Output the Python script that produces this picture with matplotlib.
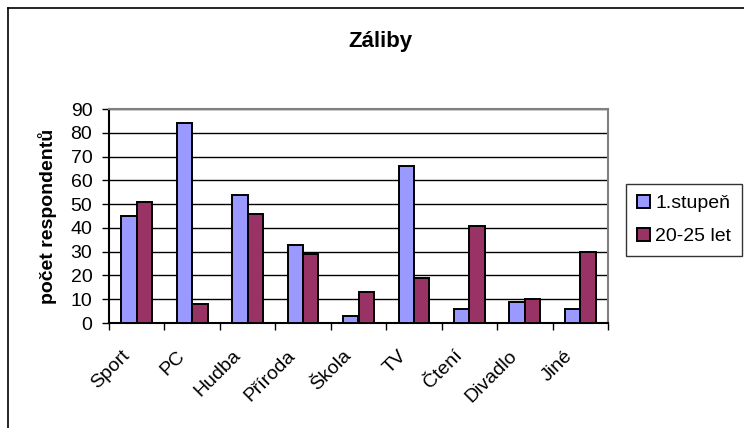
import numpy as np
import matplotlib
matplotlib.use('Agg')
import matplotlib.pyplot as plt
import matplotlib.transforms as mtransforms
from matplotlib.lines import Line2D

plt.rcParams['font.family'] = ['Liberation Sans', 'DejaVu Sans']

categories = ['Sport', 'PC', 'Hudba', 'Příroda', 'Škola', 'TV', 'Čtení', 'Divadlo', 'Jiné']
stupen1 = [45, 84, 54, 33, 3, 66, 6, 9, 6]
let20_25 = [51, 8, 46, 29, 13, 19, 41, 10, 30]
series_names = ['1.stupeň', '20-25 let']

W, H = 744, 428
fig = plt.figure(figsize=(W / 100, H / 100), dpi=100)

# plot area in pixels: x 109-608, y 109-323
ax = fig.add_axes([109 / W, 1 - 323 / H, (608 - 109) / W, (323 - 109) / H])

x = np.arange(len(categories))
bw = 0.277
ax.bar(x - bw / 2, stupen1, bw, color='#9999FF', edgecolor='black', linewidth=1.4,
       label=series_names[0], zorder=3)
ax.bar(x + bw / 2, let20_25, bw, color='#993366', edgecolor='black', linewidth=1.4,
       label=series_names[1], zorder=3)

ax.set_xlim(-0.5, len(categories) - 0.5)
ax.set_ylim(0, 90)
ax.set_yticks(range(0, 91, 10))
ax.yaxis.grid(True, color='black', linewidth=1)
ax.set_axisbelow(True)

ax.set_xticks(np.arange(len(categories) + 1) - 0.5)
ax.set_xticklabels([])
ax.set_xticks(x, minor=True)
ax.set_xticklabels(categories, minor=True, rotation=45, ha='right',
                   rotation_mode='anchor', fontsize=14)
ax.tick_params(axis='x', which='minor', length=0, pad=11)
ax.tick_params(axis='x', which='major', length=5, direction='out', width=1)
ax.tick_params(axis='y', length=5, direction='out', width=1, labelsize=14, pad=7)

# shift rotated labels left and down, like the original
shift = mtransforms.ScaledTranslation(-16 / 100, -9 / 100, fig.dpi_scale_trans)
for lbl in ax.get_xticklabels(minor=True):
    lbl.set_transform(lbl.get_transform() + shift)

for s in ['top', 'right']:
    ax.spines[s].set_color('#808080')
    ax.spines[s].set_linewidth(1.5)
for s in ['left', 'bottom']:
    ax.spines[s].set_color('black')
    ax.spines[s].set_linewidth(1.5)

ax.set_ylabel('počet respondentů', fontsize=14, fontweight='bold', labelpad=10)
fig.text(380 / W, 1 - 42 / H, 'Záliby', ha='center', va='center',
         fontsize=16, fontweight='bold')

leg = fig.legend(loc='center left', bbox_to_anchor=(626 / W, 1 - 220 / H),
                 fontsize=14, frameon=True, fancybox=False, edgecolor='black',
                 handlelength=0.7, handleheight=0.7, handletextpad=0.25,
                 borderpad=0.55, labelspacing=0.8, borderaxespad=0)
leg.get_frame().set_linewidth(1)

# chart border (top and left)
fig.add_artist(Line2D([8 / W, 1], [1 - 8 / H, 1 - 8 / H], color='black', linewidth=1.2))
fig.add_artist(Line2D([8 / W, 8 / W], [0, 1 - 8 / H], color='black', linewidth=1.2))

fig.savefig('out.png', dpi=100)
